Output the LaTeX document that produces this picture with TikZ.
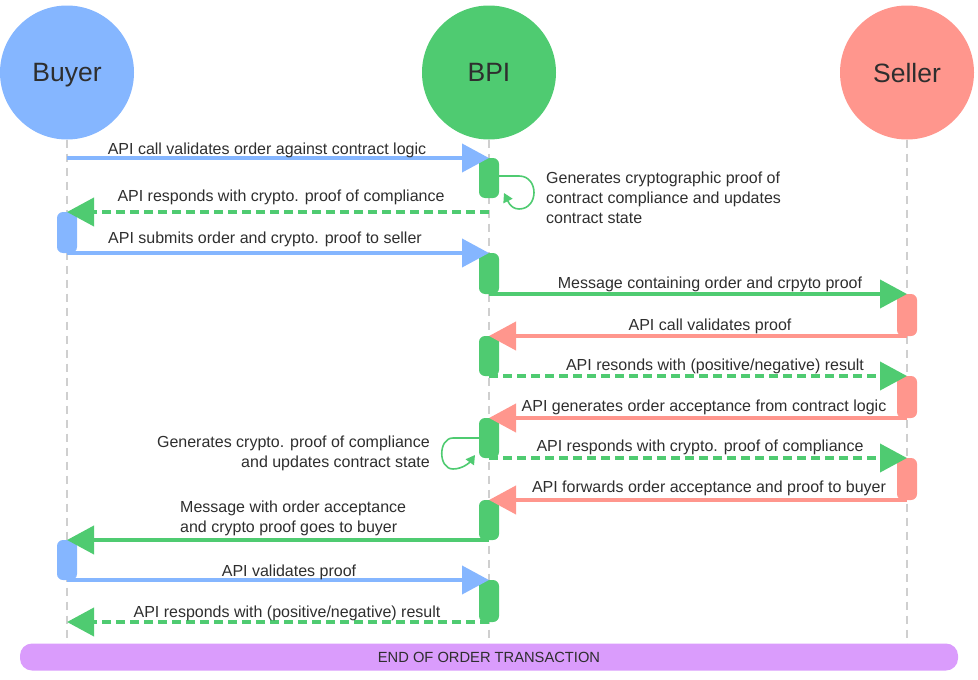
\documentclass[tikz,border=0pt]{standalone}
\usepackage{fontspec}
\setmainfont{Liberation Sans}
\usetikzlibrary{arrows.meta,calc}
\definecolor{cblue}{HTML}{85B6FF}
\definecolor{cgreen}{HTML}{4FCB71}
\definecolor{cred}{HTML}{FF968D}
\definecolor{cpurple}{HTML}{DA9CFC}
\definecolor{ctext}{HTML}{2E2E2E}
\definecolor{cgrey}{HTML}{CFCFCF}
\begin{document}
\begin{tikzpicture}[x=1pt,y=-1pt,
  actor/.style={circle,minimum size=134pt,inner sep=0pt,text depth=0pt,font=\fontsize{26.5}{30}\selectfont,text=ctext},
  lifeline/.style={draw=cgrey,line width=1.6pt,dash pattern=on 8pt off 6pt},
  actbox/.style={rounded corners=6pt,line width=0pt},
  msg/.style={line width=4pt,-{Triangle[length=27pt,width=28pt]}},
  msgdash/.style={msg,dash pattern=on 9pt off 5pt},
  lbl/.style={font=\fontsize{16}{20}\selectfont,text=ctext,inner sep=0pt},
  selfloop/.style={draw=cgreen,line width=1.6pt,-{Triangle[length=9pt,width=10pt]}}
]
\useasboundingbox (0,0) rectangle (978,680);

% actors
\node[actor,fill=cblue] (buyer) at (67,72.5) {Buyer};
\node[actor,fill=cgreen] (bpi) at (489,72.5) {BPI};
\node[actor,fill=cred] (seller) at (907,72.5) {Seller};

% lifelines
\coordinate (bend) at (67,645);
\coordinate (pend) at (489,645);
\coordinate (send) at (907,645);
\draw[lifeline] (buyer.south) -- (bend);
\draw[lifeline] (bpi.south) -- (pend);
\draw[lifeline] (seller.south) -- (send);

% activation boxes
\newcommand{\actbar}[5]{\fill[#2,actbox] (#3-10,#4) rectangle (#3+10,#5);
  \coordinate (#1n) at (#3,#4); \coordinate (#1s) at (#3,#5);
  \coordinate (#1e) at (#3+10,{(#4+#5)/2}); \coordinate (#1w) at (#3-10,{(#4+#5)/2});}
\actbar{P1}{cgreen}{489}{158}{198}
\actbar{B1}{cblue}{67}{212}{253}
\actbar{P2}{cgreen}{489}{253}{294}
\actbar{S1}{cred}{907}{294}{336}
\actbar{P3}{cgreen}{489}{336}{376}
\actbar{S2}{cred}{907}{376}{418}
\actbar{P4}{cgreen}{489}{418}{458}
\actbar{S3}{cred}{907}{458}{500}
\actbar{P5}{cgreen}{489}{500}{540}
\actbar{B2}{cblue}{67}{540}{580}
\actbar{P6}{cgreen}{489}{580}{622}

\coordinate (b0) at (67,158);
\coordinate (bz) at (67,622);

% messages
\draw[msg,cblue] (b0) -- (P1n);
\draw[msgdash,cgreen] (P1s |- B1n) -- (B1n);
\draw[msg,cblue] (B1s) -- (P2n);
\draw[msg,cgreen] (P2s) -- (S1n);
\draw[msg,cred] (S1s) -- (P3n);
\draw[msgdash,cgreen] (P3s) -- (S2n);
\draw[msg,cred] (S2s) -- (P4n);
\draw[msgdash,cgreen] (P4s) -- (S3n);
\draw[msg,cred] (S3s) -- (P5n);
\draw[msg,cgreen] (P5s) -- (B2n);
\draw[msg,cblue] (B2s) -- (P6n);
\draw[msgdash,cgreen] (P6s) -- (bz);

% labels
\node[lbl] (l1) at (267,150) {API call validates order against contract logic};
\node[lbl] (l2) at (281,197) {API responds with crypto. proof of compliance};
\node[lbl] (l3) at (265,239) {API submits order and crypto. proof to seller};
\node[lbl] (l4) at (710,284) {Message containing order and crpyto proof};
\node[lbl] (l5) at (710,326) {API call validates proof};
\node[lbl] (l6) at (715,366) {API resonds with (positive/negative) result};
\node[lbl] (l7) at (704,407) {API generates order acceptance from contract logic};
\node[lbl] (l8) at (700,447) {API responds with crypto. proof of compliance};
\node[lbl] (l9) at (709,488) {API forwards order acceptance and proof to buyer};
\node[lbl,anchor=west,align=left] (l10) at (180,518) {Message with order acceptance\\and crypto proof goes to buyer};
\node[lbl] (l11) at (289,572) {API validates proof};
\node[lbl] (l12) at (287,613) {API responds with (positive/negative) result};

% self loops
\draw[selfloop] ([yshift=2pt]P1e) -- ++(20,0) .. controls +(20,0) and +(20,0) .. ++(0,33) .. controls +(-9,0) and +(3,6) .. ++(-15,-16);
\node[lbl,anchor=west,align=left] (n1) at (546,198) {Generates cryptographic proof of\\contract compliance and updates\\contract state};

\draw[selfloop] ([yshift=0pt]P4w) -- ++(-26,0) .. controls +(-15,0) and +(-15,0) .. ++(0,31) .. controls +(10,0) and +(-5,7) .. ++(22,-14);
\node[lbl,anchor=east,align=right] (n2) at (430,453) {Generates crypto. proof of compliance\\and updates contract state};

% end bar
\node[fill=cpurple,rounded corners=12pt,minimum width=938pt,minimum height=27pt,inner sep=0pt,
  font=\fontsize{14.7}{17}\selectfont,text=ctext] (endbar) at (489,657) {END OF ORDER TRANSACTION};
\end{tikzpicture}
\end{document}
